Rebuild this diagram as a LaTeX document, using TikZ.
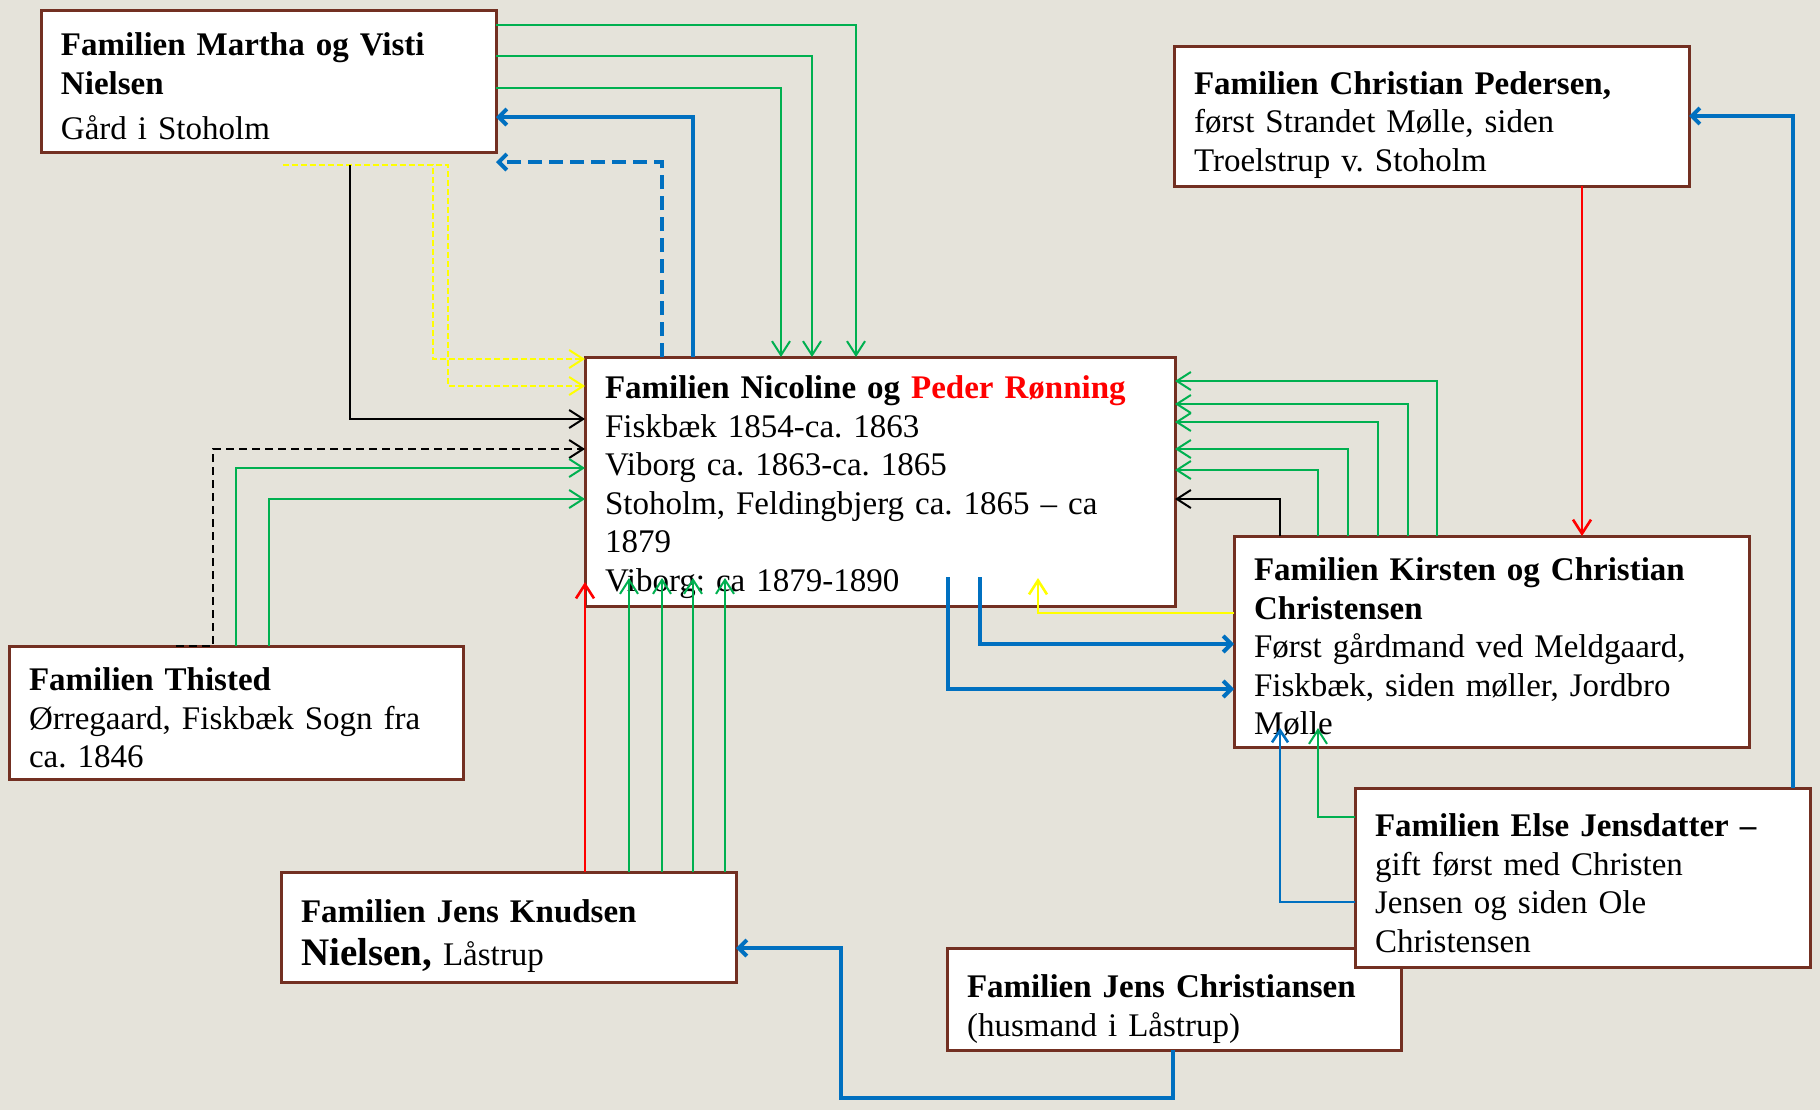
\documentclass[tikz,border=0pt]{standalone}
\usepackage{fontspec}
\setmainfont{Liberation Serif}
\usepackage{xcolor}
\usepackage{tikz}
\usetikzlibrary{arrows.meta, positioning, calc}
\definecolor{famborder}{RGB}{115,48,34}
\definecolor{famgreen}{HTML}{00B050}
\definecolor{famblue}{HTML}{0070C0}
\definecolor{famred}{HTML}{FF0000}
\definecolor{famyellow}{HTML}{FFFF00}
\definecolor{pagebg}{HTML}{E5E3DA}
\frenchspacing

\tikzset{
  textdrop/.style={execute at begin node={\rule{0pt}{#1}}},
  familybox/.style={draw=famborder, line width=1.5pt, fill=white, anchor=north west,
    inner xsep=10pt, inner ysep=0pt, outer sep=0pt, align=left, textdrop=17pt,
    font=\fontsize{16.5}{19.25}\selectfont},
  greenlink/.style={famgreen, line width=1pt, -{Straight Barb[length=7pt,width=9pt]}},
  blacklink/.style={black, line width=1pt, -{Straight Barb[length=7pt,width=9pt]}},
  redlink/.style={famred, line width=1.3pt, -{Straight Barb[length=7pt,width=9pt]}},
  yellowlink/.style={famyellow, line width=1.3pt, -{Straight Barb[length=7pt,width=9pt]}},
  bluelink/.style={famblue, line width=2pt, -{Straight Barb[length=4pt,width=8pt]}}
}

\begin{document}
\begin{tikzpicture}[x=0.5pt, y=-0.5pt]
  % Page background
  \fill[pagebg] (0,0) rectangle (1820,1110);

  % Family boxes
  \node[familybox, textdrop=14.5pt, minimum height=71pt, text width=207.5pt] (martha) at (41,10)
    {\textbf{Familien Martha og Visti}\\\textbf{Nielsen}\\[3.5pt]Gård i Stoholm};
  \node[familybox, textdrop=20.5pt, minimum height=70pt, text width=237.5pt] (pedersen) at (1174,46)
    {\textbf{Familien Christian Pedersen,}\\først Strandet Mølle, siden\\Troelstrup v. Stoholm};
  \node[familybox, minimum height=124.5pt, text width=275pt] (nicoline) at (585,357)
    {\textbf{Familien Nicoline og \textcolor{famred}{Peder Rønning}}\\Fiskbæk 1854-ca. 1863\\Viborg ca. 1863-ca. 1865\\Stoholm, Feldingbjerg ca. 1865 – ca\\1879\\Viborg: ca 1879-1890};
  \node[familybox, textdrop=15.5pt, minimum height=105.5pt, text width=237.5pt] (kirsten) at (1234,536)
    {\textbf{Familien Kirsten og Christian}\\\textbf{Christensen}\\Først gårdmand ved Meldgaard,\\Fiskbæk, siden møller, Jordbro\\Mølle};
  \node[familybox, textdrop=15.5pt, minimum height=66.5pt, text width=207pt] (thisted) at (9,646)
    {\textbf{Familien Thisted}\\Ørregaard, Fiskbæk Sogn fra\\ca. 1846};
  \node[familybox, textdrop=20.5pt, minimum height=55pt, text width=207.5pt] (knudsen) at (281,872)
    {\textbf{Familien Jens Knudsen}\\[2pt]{\fontsize{19.5}{19.25}\selectfont\bfseries Nielsen,} Låstrup};
  \node[familybox, textdrop=21.5pt, minimum height=51pt, text width=207pt] (jensc) at (947,948)
    {\textbf{Familien Jens Christiansen}\\(husmand i Låstrup)};
  \node[familybox, minimum height=89.5pt, text width=207.5pt] (elsej) at (1355,788)
    {\textbf{Familien Else Jensdatter –}\\gift først med Christen\\Jensen og siden Ole\\Christensen};

  % Links from Martha and Visti Nielsen
  \draw[greenlink] (martha.east |- 0,25) -| (nicoline.north -| 856,0);
  \draw[greenlink] (martha.east |- 0,56) -| (nicoline.north -| 812,0);
  \draw[greenlink] (martha.east |- 0,88) -| (nicoline.north -| 781,0);
  \draw[bluelink] (nicoline.north -| 693,0) |- (martha.east |- 0,117);
  \draw[bluelink, dash pattern=on 7pt off 3.5pt] (nicoline.north -| 662,0) |- (martha.east |- 0,162);
  \coordinate (ysplit) at (283,165);
  \coordinate (bsplit) at (350,165);
  \draw[yellowlink, line width=1pt, dash pattern=on 3pt off 1.5pt] (ysplit) -| (433,359) -- (nicoline.west |- 0,359);
  \draw[yellowlink, line width=1pt, dash pattern=on 3pt off 1.5pt] (ysplit) -| (448,386) -- (nicoline.west |- 0,386);
  \draw[blacklink] (bsplit) |- (nicoline.west |- 0,419);

  % Links from Thisted
  \draw[blacklink, dash pattern=on 4pt off 2.5pt] (thisted.north -| 176,0) -- (thisted.north -| 213,0) |- (nicoline.west |- 0,449);
  \draw[greenlink] (thisted.north -| 236,0) |- (nicoline.west |- 0,468);
  \draw[greenlink] (thisted.north -| 269,0) |- (nicoline.west |- 0,499);

  % Links from Jens Knudsen Nielsen
  \draw[redlink] (knudsen.north -| nicoline.west) -- ($(nicoline.south west)+(0,-24)$);
  \foreach \xk in {629,662,693,725}
    \draw[greenlink] (knudsen.north -| \xk,0) -- ($(nicoline.south -| \xk,0)+(0,-28)$);

  % Links between Nicoline and Kirsten
  \draw[bluelink] ($(nicoline.south -| 948,0)+(0,-29)$) |- (kirsten.west |- 0,689);
  \draw[bluelink] ($(nicoline.south -| 980,0)+(0,-29)$) |- (kirsten.west |- 0,644);
  \draw[yellowlink] (kirsten.west |- 0,613) -| ($(nicoline.south -| 1038,0)+(0,-28)$);
  \foreach \xk/\yk in {1437/381, 1408/404, 1378/422, 1348/449, 1318/470}
    \draw[greenlink] (kirsten.north -| \xk,0) |- (nicoline.east |- 0,\yk);
  \draw[blacklink] (kirsten.north -| 1280,0) |- (nicoline.east |- 0,499);

  % Links from Pedersen, Else and Jens Christiansen
  \draw[redlink] (pedersen.south -| 1582,0) -- (kirsten.north -| 1582,0);
  \draw[bluelink] (elsej.north -| 1793,0) |- (pedersen.east |- 0,116);
  \draw[greenlink] (elsej.west |- 0,817) -| ($(kirsten.south -| 1318,0)+(0,-19)$);
  \draw[bluelink, line width=1.3pt, -{Straight Barb[length=6pt,width=8pt]}] (elsej.west |- 0,902) -| ($(kirsten.south -| 1280,0)+(0,-19)$);
  \draw[bluelink] (jensc.south -| 1173,0) -- (1173,1098) -| (841,948) -- (knudsen.east |- 0,948);
\end{tikzpicture}
\end{document}
